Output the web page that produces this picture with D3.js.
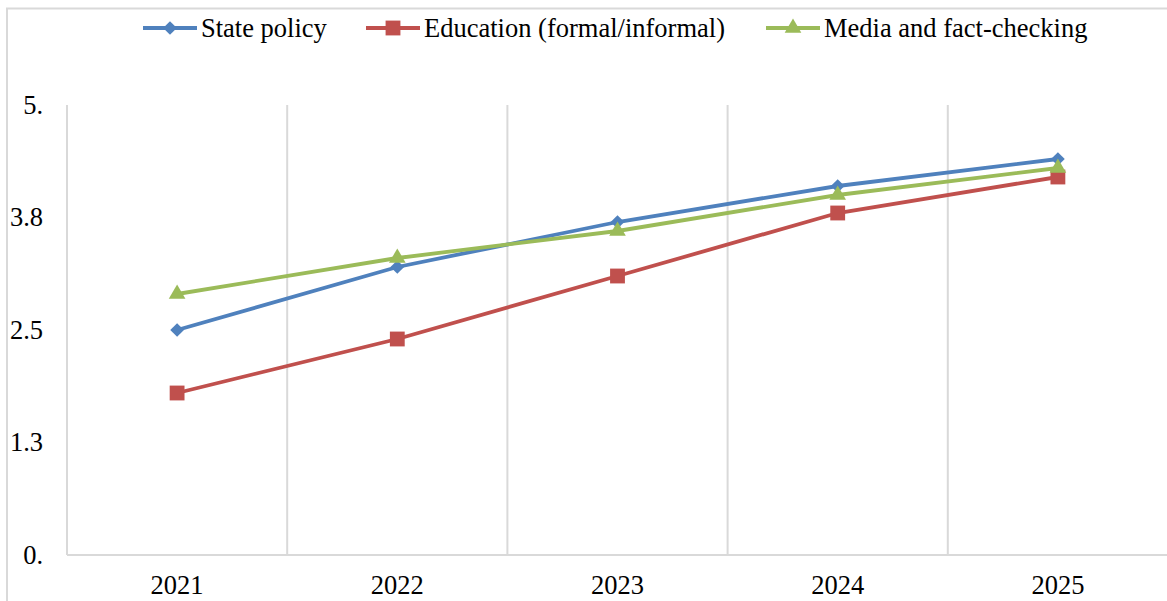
<!DOCTYPE html>
<html>
<head>
<meta charset="utf-8">
<script src="https://cdn.jsdelivr.net/npm/d3@7"></script>
<style>
    body { margin: 0; background: #fff; }
    text { font-family: "Liberation Serif", "Times New Roman", serif; fill: #000; }
</style>
</head>
<body>
<div id="chart"></div>
<script>

// data
let years = ["2021", "2022", "2023", "2024", "2025"];
let statePolicy = [2.5, 3.2, 3.7, 4.1, 4.4];
let education = [1.8, 2.4, 3.1, 3.8, 4.2];
let media = [2.9, 3.3, 3.6, 4.0, 4.3];
let seriesNames = ["State policy", "Education (formal/informal)", "Media and fact-checking"];
let yTicks = [0, 1.25, 2.5, 3.75, 5];
let yTickLabels = ["0.", "1.3", "2.5", "3.8", "5."];

let series = [
    {name: seriesNames[0], values: statePolicy, color: "#4f81bd", symbol: d3.symbolDiamond2, size: 120},
    {name: seriesNames[1], values: education, color: "#c0504d", symbol: d3.symbolSquare, size: 220},
    {name: seriesNames[2], values: media, color: "#9bbb59", symbol: d3.symbolTriangle, size: 120}
];

let W = 1167, H = 601;
let fontSize = "26.5px";
let margin = {top: 105, right: -1, bottom: 46, left: 67};
let width = W - margin.left - margin.right;
let height = H - margin.top - margin.bottom;

let svg = d3.select("#chart")
    .append("svg")
    .attr("width", W)
    .attr("height", H);

// outer frame
svg.append("rect")
    .attr("x", 7).attr("y", 8.5)
    .attr("width", W + 10).attr("height", H + 10)
    .attr("fill", "none")
    .attr("stroke", "#d9d9d9")
    .attr("stroke-width", 2);

let g = svg.append("g")
    .attr("transform", "translate(" + margin.left + "," + margin.top + ")");

let x = d3.scaleBand()
    .domain(years)
    .range([0, width]);

let y = d3.scaleLinear()
    .domain([0, 5])
    .range([height, 0]);

// vertical gridlines between categories
g.selectAll(".grid")
    .data(years)
    .enter().append("line")
    .attr("class", "grid")
    .attr("x1", d => x(d) + x.bandwidth())
    .attr("x2", d => x(d) + x.bandwidth())
    .attr("y1", 0)
    .attr("y2", height)
    .attr("stroke", "#d9d9d9")
    .attr("stroke-width", 2);

// x axis
let xAxis = d3.axisBottom(x).tickSize(0).tickPadding(20);
let xg = g.append("g")
    .attr("transform", "translate(0," + height + ")")
    .call(xAxis)
    .attr("font-family", null)
    .attr("font-size", null);
xg.select(".domain").remove();
xg.selectAll("text").style("font-size", fontSize);

g.append("line")
    .attr("x1", 0).attr("x2", width)
    .attr("y1", height).attr("y2", height)
    .attr("stroke", "#d9d9d9")
    .attr("stroke-width", 2);

// y axis
let yAxis = d3.axisLeft(y)
    .tickValues(yTicks)
    .tickFormat((d, i) => yTickLabels[i])
    .tickSize(0)
    .tickPadding(24);
let yg = g.append("g").call(yAxis)
    .attr("font-family", null)
    .attr("font-size", null);
yg.select(".domain").remove();
yg.selectAll("text").style("font-size", fontSize);

g.append("line")
    .attr("x1", 0).attr("x2", 0)
    .attr("y1", 0).attr("y2", height)
    .attr("stroke", "#d9d9d9")
    .attr("stroke-width", 2);

// lines
let line = d3.line()
    .x((d, i) => x(years[i]) + x.bandwidth() / 2)
    .y(d => y(d));

series.forEach(s => {
    g.append("path")
        .datum(s.values)
        .attr("fill", "none")
        .attr("stroke", s.color)
        .attr("stroke-width", 3.8)
        .attr("d", line);

    g.selectAll(null)
        .data(s.values)
        .enter().append("path")
        .attr("d", d3.symbol().type(s.symbol).size(s.size))
        .attr("transform", (d, i) => "translate(" + (x(years[i]) + x.bandwidth() / 2) + "," + y(d) + ")")
        .attr("fill", s.color);
});

// legend
let legendX = [143, 366, 766];
let legend = svg.append("g");
series.forEach((s, i) => {
    let lg = legend.append("g").attr("transform", "translate(" + legendX[i] + ",28)");
    lg.append("line")
        .attr("x1", 0).attr("x2", 54)
        .attr("y1", 0).attr("y2", 0)
        .attr("stroke", s.color)
        .attr("stroke-width", 3.8);
    lg.append("path")
        .attr("d", d3.symbol().type(s.symbol).size(s.size))
        .attr("transform", "translate(27,0)")
        .attr("fill", s.color);
    lg.append("text")
        .attr("x", 58)
        .attr("y", 9)
        .style("font-size", fontSize)
        .text(s.name);
});

</script>
</body>
</html>
